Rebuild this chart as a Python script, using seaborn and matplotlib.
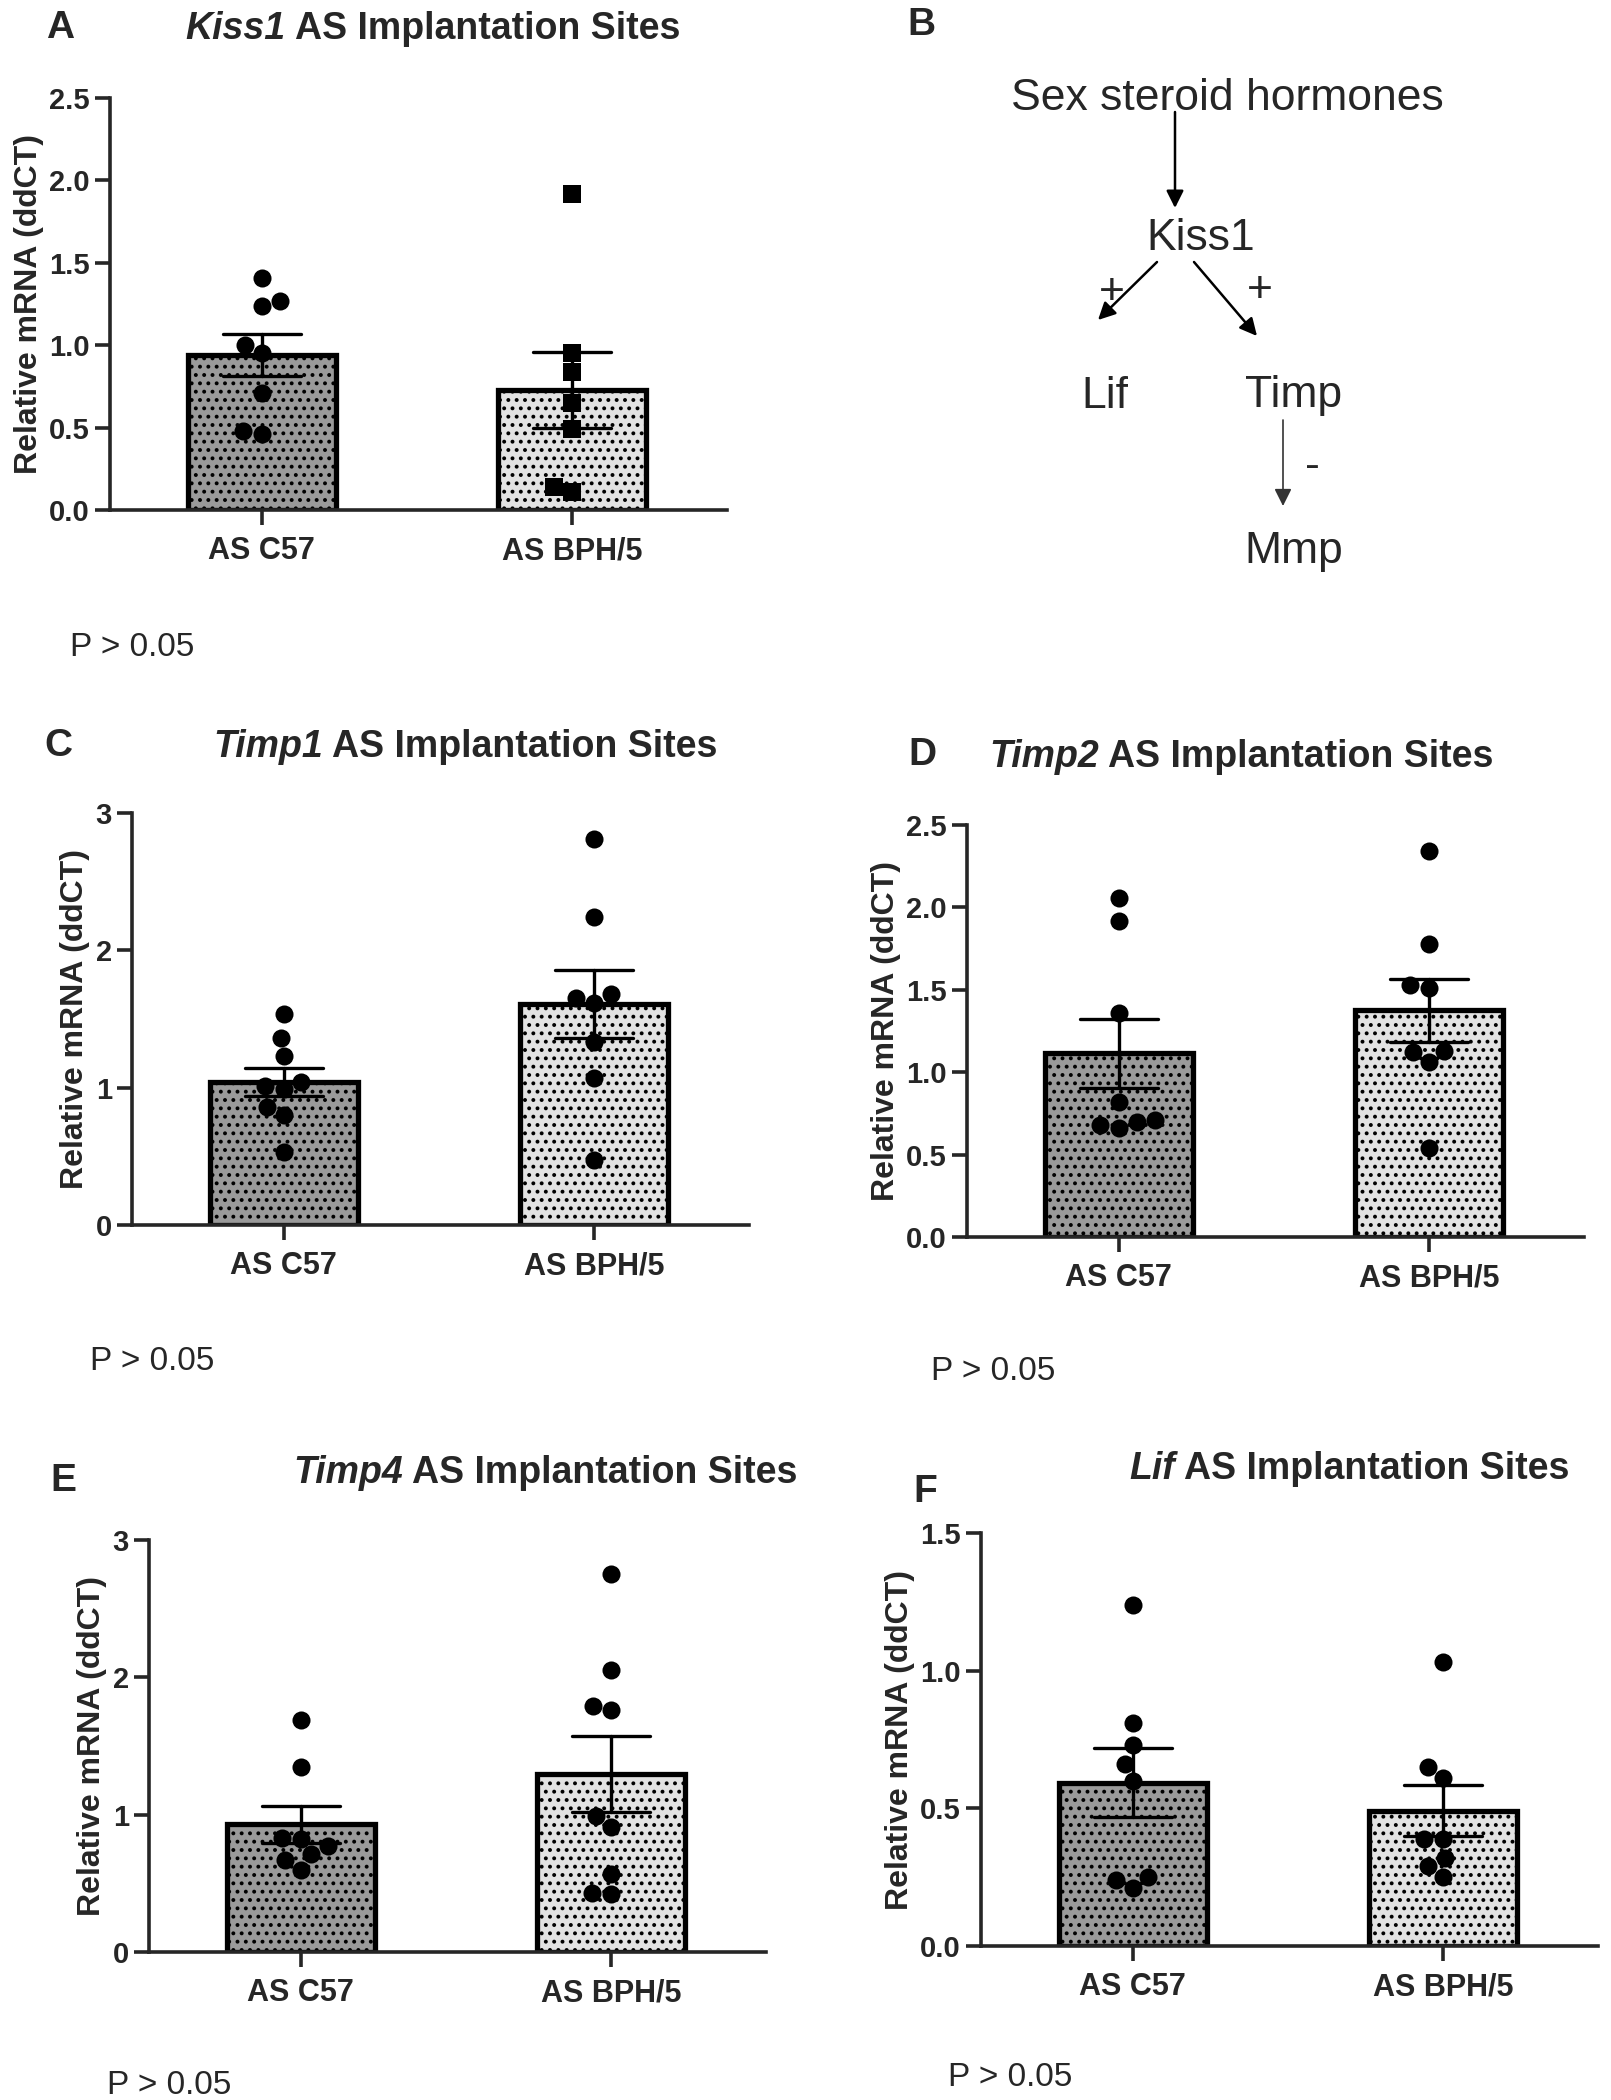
import numpy as np
import pandas as pd
import seaborn as sns
import matplotlib
matplotlib.use('Agg')
import matplotlib.pyplot as plt

sns.set_style('ticks')
plt.rcParams['font.family'] = ['Liberation Sans', 'DejaVu Sans']
plt.rcParams['hatch.linewidth'] = 1.6

# groups
groups = ['AS C57', 'AS BPH/5']

# relative mRNA (ddCT), one value per animal
kiss1_c57 = [1.41, 1.27, 1.24, 1.00, 0.95, 0.71, 0.48, 0.46]
kiss1_bph = [1.92, 0.95, 0.84, 0.65, 0.49, 0.14, 0.11]
timp1_c57 = [1.54, 1.36, 1.23, 1.04, 0.99, 1.01, 0.86, 0.80, 0.53]
timp1_bph = [2.81, 2.24, 1.68, 1.62, 1.65, 1.33, 1.07, 0.47]
timp2_c57 = [2.06, 1.92, 1.36, 0.82, 0.71, 0.66, 0.68, 0.70]
timp2_bph = [2.34, 1.78, 1.53, 1.51, 1.13, 1.12, 1.06, 0.54]
timp4_c57 = [1.69, 1.35, 0.83, 0.77, 0.82, 0.71, 0.67, 0.60]
timp4_bph = [2.75, 2.05, 1.79, 1.76, 0.99, 0.91, 0.57, 0.42, 0.43]
lif_c57 = [1.24, 0.81, 0.73, 0.66, 0.60, 0.25, 0.24, 0.21]
lif_bph = [1.03, 0.65, 0.61, 0.39, 0.39, 0.32, 0.29, 0.25]

# y ticks per panel
kiss1_ticks = [0.0, 0.5, 1.0, 1.5, 2.0, 2.5]
timp1_ticks = [0, 1, 2, 3]
timp2_ticks = [0.0, 0.5, 1.0, 1.5, 2.0, 2.5]
timp4_ticks = [0, 1, 2, 3]
lif_ticks = [0.0, 0.5, 1.0, 1.5]

W, H = 1611, 2100
fig = plt.figure(figsize=(W / 100, H / 100), dpi=100)

# overlay in pixel coords for free text and the schematic
ov = fig.add_axes([0, 0, 1, 1])
ov.set_xlim(0, W)
ov.set_ylim(H, 0)
ov.axis('off')

bar_colors = {'AS C57': '#9a9a9a', 'AS BPH/5': '#e2e2e2'}


def make_df(c57, bph):
    return pd.DataFrame({'group': ['AS C57'] * len(c57) + ['AS BPH/5'] * len(bph),
                         'val': list(c57) + list(bph)})


def panel(box, c57, bph, ticks, fmt, gene, letter, letter_xy, title_xy, p_xy, bph_marker='o'):
    x0, y0, x1, y1 = box
    ax = fig.add_axes([x0 / W, 1 - y1 / H, (x1 - x0) / W, (y1 - y0) / H])
    df = make_df(c57, bph)
    sns.barplot(data=df, x='group', y='val', hue='group', order=groups, hue_order=groups,
                palette=bar_colors, saturation=1, width=0.48, errorbar='se', capsize=0.25,
                err_kws={'color': 'black', 'linewidth': 2.4}, edgecolor='black', linewidth=3.8,
                legend=False, ax=ax)
    for p in ax.patches:
        p.set_hatch('..')
    sns.swarmplot(data=df[df.group == 'AS C57'], x='group', y='val', order=groups,
                  color='black', size=13, marker='o', ax=ax, zorder=4)
    sns.swarmplot(data=df[df.group == 'AS BPH/5'], x='group', y='val', order=groups,
                  color='black', size=13, marker=bph_marker, ax=ax, zorder=4)
    ax.set_xlim(-0.49, 1.5)
    ax.set_ylim(0, ticks[-1])
    ax.set_yticks(ticks)
    ax.set_yticklabels([fmt.format(t) for t in ticks])
    ax.set_xlabel('')
    ax.set_ylabel('Relative mRNA (ddCT)', fontsize=23, fontweight='bold', labelpad=4)
    sns.despine(ax=ax)
    for s in ['left', 'bottom']:
        ax.spines[s].set_linewidth(2.6)
    ax.tick_params(axis='both', width=2.6, length=11, labelsize=21)
    ax.tick_params(axis='x', labelsize=22, pad=8)
    for lab in ax.get_xticklabels() + ax.get_yticklabels():
        lab.set_fontweight('bold')

    ov.text(letter_xy[0], letter_xy[1], letter, fontsize=28, fontweight='bold', ha='center', va='center')
    ov.text(p_xy[0], p_xy[1], 'P > 0.05', fontsize=24, ha='left', va='center')

    # title: italic gene name + bold rest, centred as one line
    r = fig.canvas.get_renderer()
    t1 = ov.text(0, title_xy[1], gene, fontsize=27, fontweight='bold', style='italic', ha='left', va='center')
    t2 = ov.text(0, title_xy[1], ' AS Implantation Sites', fontsize=27, fontweight='bold', ha='left', va='center')
    w1 = t1.get_window_extent(r).width
    w2 = t2.get_window_extent(r).width
    left = title_xy[0] - (w1 + w2) / 2
    t1.set_x(left)
    t2.set_x(left + w1)
    return ax


panel((110, 98, 727, 510), kiss1_c57, kiss1_bph, kiss1_ticks, '{:.1f}', 'Kiss1', 'A',
      (60, 28), (433, 29), (70, 647), bph_marker='s')
panel((132, 813, 749, 1225), timp1_c57, timp1_bph, timp1_ticks, '{:.0f}', 'Timp1', 'C',
      (58, 746), (465, 747), (90, 1362))
panel((967, 825, 1584, 1237), timp2_c57, timp2_bph, timp2_ticks, '{:.1f}', 'Timp2', 'D',
      (922, 755), (1241, 757), (931, 1371))
panel((149, 1540, 766, 1952), timp4_c57, timp4_bph, timp4_ticks, '{:.0f}', 'Timp4', 'E',
      (63, 1481), (545, 1473), (107, 2085))
panel((981, 1533, 1598, 1946), lif_c57, lif_bph, lif_ticks, '{:.1f}', 'Lif', 'F',
      (925, 1492), (1349, 1469), (948, 2078))

# panel B: schematic
ov.text(921, 25, 'B', fontsize=28, fontweight='bold', ha='center', va='center')
node_size = 32
ov.text(1227, 98, 'Sex steroid hormones', fontsize=node_size, ha='center', va='center')
ov.text(1201, 238, 'Kiss1', fontsize=node_size, ha='center', va='center')
ov.text(1105, 396, 'Lif', fontsize=node_size, ha='center', va='center')
ov.text(1294, 396, 'Timp', fontsize=node_size, ha='center', va='center')
ov.text(1294, 552, 'Mmp', fontsize=node_size, ha='center', va='center')
ov.text(1112, 292, '+', fontsize=32, ha='center', va='center')
ov.text(1260, 291, '+', fontsize=32, ha='center', va='center')
ov.text(1312, 467, '-', fontsize=32, ha='center', va='center')

arrow = dict(arrowstyle='-|>', color='black', lw=1.8, mutation_scale=26, shrinkA=0, shrinkB=0)
ov.annotate('', xy=(1175, 208), xytext=(1175, 112), arrowprops=arrow)
ov.annotate('', xy=(1098, 320), xytext=(1157, 262), arrowprops=arrow)
ov.annotate('', xy=(1257, 336), xytext=(1194, 262), arrowprops=arrow)
ov.annotate('', xy=(1283, 506), xytext=(1283, 420),
            arrowprops=dict(arrowstyle='-|>', color='#333333', lw=1.2, mutation_scale=26, shrinkA=0, shrinkB=0))

plt.savefig('out.png', dpi=100)
